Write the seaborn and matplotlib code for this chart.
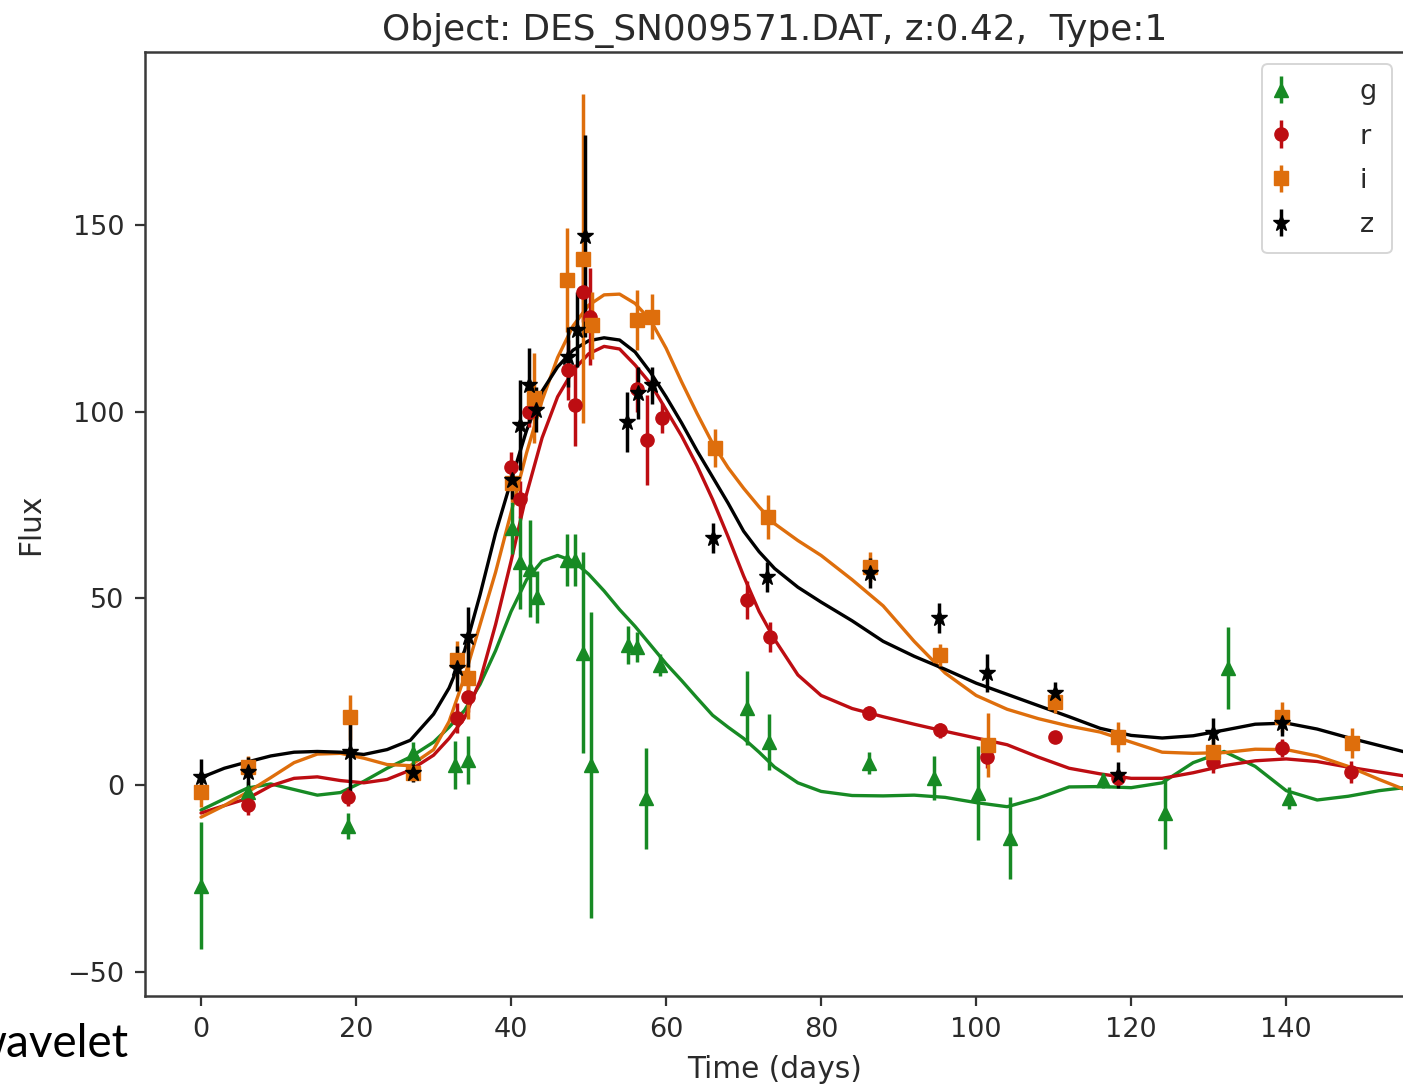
import matplotlib
matplotlib.use("Agg")
import matplotlib.pyplot as plt
import seaborn as sns
import numpy as np

# ---------------- observations (days, flux, flux error) ----------------
g_days = [0.0, 6.1, 19.0, 27.3, 32.8, 34.4, 40.1, 41.2, 42.5, 43.3, 47.2, 48.3,
          49.3, 50.3, 55.1, 56.3, 57.4, 59.2, 70.4, 73.3, 86.2, 94.5, 100.3,
          104.4, 116.4, 124.4, 132.5, 140.3]
g_flux = [-27.0, -1.9, -11.0, 8.5, 5.4, 6.7, 68.8, 59.7, 58.0, 50.4, 60.3, 60.3,
          35.5, 5.4, 37.5, 37.0, -3.5, 32.1, 20.6, 11.5, 5.9, 1.9, -2.1,
          -14.2, 1.3, -7.5, 31.3, -3.5]
g_err = [17.0, 3.0, 3.5, 3.0, 6.5, 6.5, 7.0, 12.5, 13.0, 7.0, 7.0, 7.0,
         27.0, 41.0, 5.0, 4.0, 13.5, 3.0, 10.0, 7.5, 3.0, 6.0, 12.5,
         11.0, 2.0, 9.5, 11.0, 3.0]

r_days = [6.1, 19.0, 33.0, 34.4, 40.0, 41.2, 42.3, 47.4, 48.3, 49.3, 50.2, 56.3,
          57.5, 59.5, 70.4, 73.4, 86.2, 95.4, 101.4, 110.2, 118.3, 130.5,
          139.4, 148.4]
r_flux = [-5.4, -3.2, 17.9, 23.6, 85.2, 76.5, 99.9, 111.2, 101.8, 132.0, 125.4,
          106.0, 92.4, 98.3, 49.6, 39.6, 19.3, 14.7, 7.5, 12.9, 1.9, 6.2,
          9.9, 3.5]
r_err = [2.5, 2.5, 4.0, 4.0, 4.0, 5.0, 4.0, 8.0, 11.0, 8.0, 13.0, 6.0,
         12.0, 4.0, 5.0, 4.0, 2.0, 2.0, 3.0, 1.5, 2.0, 3.0, 2.5, 3.0]

i_days = [0.0, 6.1, 19.2, 27.3, 33.0, 34.4, 40.1, 42.9, 47.2, 49.3, 50.4, 56.3,
          58.2, 66.3, 73.2, 86.3, 95.4, 101.5, 110.2, 118.3, 130.6, 139.5,
          148.5]
i_flux = [-1.9, 4.8, 18.2, 3.2, 33.5, 28.7, 80.9, 103.7, 135.3, 141.0, 123.2,
          124.6, 125.4, 90.3, 71.8, 58.4, 34.8, 10.7, 22.2, 12.9, 8.8, 18.2,
          11.2]
i_err = [4.0, 3.0, 6.0, 2.0, 5.0, 11.0, 5.0, 12.0, 14.0, 44.0, 9.0, 8.0,
         6.0, 5.0, 6.0, 4.0, 3.0, 8.6, 3.0, 4.0, 4.0, 4.0, 4.0]

z_days = [0.0, 6.1, 19.2, 27.3, 33.0, 34.4, 40.1, 41.2, 42.3, 43.2, 47.4, 48.5,
          49.5, 55.0, 56.4, 58.2, 66.1, 73.0, 86.3, 95.2, 101.4, 110.2,
          118.3, 130.6, 139.4]
z_flux = [2.1, 3.5, 8.8, 3.2, 31.3, 39.6, 81.7, 96.4, 107.1, 100.5, 114.6, 122.0,
          147.0, 97.2, 105.0, 107.1, 66.2, 55.7, 56.8, 44.7, 30.0, 24.6,
          2.7, 13.9, 16.6]
z_err = [5.0, 4.0, 11.0, 2.5, 6.0, 8.0, 5.0, 12.0, 10.0, 6.0, 8.0, 10.0,
         27.0, 8.0, 7.0, 5.0, 4.0, 4.0, 4.0, 4.0, 5.0, 3.0, 3.5, 4.0, 3.5]

# ---------------- fitted light curves ----------------
curve_days = [0, 3, 6, 9, 12, 15, 18, 21, 24, 27, 30, 32, 34, 36, 38, 40, 42, 44,
              46, 48, 50, 52, 54, 56, 58, 60, 62, 64, 66, 68, 70, 72, 74, 77, 80,
              84, 88, 92, 96, 100, 104, 108, 112, 116, 120, 124, 128, 132, 136,
              140, 144, 148, 152, 156]
g_fit = [-6.7, -3.7, -0.8, 0.3, -1.2, -2.7, -2.0, 1.0, 4.5, 7.5, 11.5, 15.5, 20.0,
         27.0, 36.0, 46.5, 55.0, 60.0, 61.5, 60.0, 56.5, 52.0, 47.0, 42.5, 37.5,
         32.5, 28.0, 23.3, 18.7, 15.5, 12.5, 8.8, 4.8, 0.6, -1.7, -2.8, -2.9,
         -2.7, -3.3, -4.7, -5.8, -3.5, -0.5, -0.4, -0.7, 0.6, 6.0, 9.0, 5.0,
         -1.5, -4.0, -3.0, -1.5, -0.5]
r_fit = [-7.5, -5.5, -3.6, -0.2, 1.8, 2.2, 1.2, 0.6, 1.5, 4.0, 8.0, 12.5, 18.0,
         28.0, 43.0, 60.0, 78.0, 93.0, 104.0, 111.0, 115.5, 117.5, 116.8, 112.5,
         107.5, 100.5, 93.5, 85.5, 76.5, 66.5, 56.0, 46.5, 39.0, 29.5, 24.0,
         20.5, 18.3, 16.3, 14.4, 12.6, 10.8, 7.5, 4.5, 3.0, 1.8, 1.8, 3.3, 5.2,
         6.5, 7.0, 6.3, 4.8, 3.5, 2.2]
i_fit = [-8.6, -5.5, -1.9, 2.0, 6.0, 8.3, 8.5, 7.2, 5.5, 5.2, 9.5, 17.0, 29.0,
         43.0, 57.0, 73.0, 89.0, 103.0, 114.5, 123.0, 128.5, 131.3, 131.5, 129.0,
         124.5, 117.0, 108.0, 99.5, 91.5, 85.0, 79.5, 74.5, 70.0, 65.5, 61.5,
         55.0, 48.0, 38.5, 30.0, 24.0, 20.3, 17.8, 15.8, 14.2, 11.5, 8.8, 8.5,
         8.7, 9.6, 9.5, 7.8, 5.0, 1.5, -1.8]
z_fit = [2.0, 4.5, 6.2, 7.8, 8.8, 9.0, 8.8, 8.2, 9.5, 12.0, 19.0, 26.0, 36.0,
         51.0, 67.5, 81.5, 95.0, 105.5, 112.0, 116.5, 119.0, 119.8, 119.2, 116.0,
         110.5, 104.0, 97.0, 89.5, 82.5, 75.5, 68.0, 62.5, 58.0, 53.0, 49.0,
         44.0, 38.5, 34.5, 31.0, 27.3, 24.3, 21.3, 18.3, 15.2, 13.3, 12.6, 13.2,
         14.7, 16.3, 16.6, 15.0, 12.7, 10.6, 8.5]

bands = ["g", "r", "i", "z"]
band_colors = {"g": "#178a24", "r": "#bd0d12", "i": "#de6e0c", "z": "#000000"}
band_markers = {"g": "^", "r": "o", "i": "s", "z": "*"}
observations = {
    "g": (g_days, g_flux, g_err, g_fit),
    "r": (r_days, r_flux, r_err, r_fit),
    "i": (i_days, i_flux, i_err, i_fit),
    "z": (z_days, z_flux, z_err, z_fit),
}

sns.set_style("ticks")
plt.rcParams["font.family"] = ["DejaVu Sans"]

fs = 19.5
fs_lab = 21.3
fig = plt.figure(figsize=(14.03, 10.87), dpi=100)
ax = fig.add_axes([145 / 1403, 91 / 1087, 1259 / 1403, 944 / 1087])

for band in bands:
    days, flux, err, fit = observations[band]
    col = band_colors[band]
    ax.errorbar(days, flux, yerr=err, fmt=band_markers[band], color=col,
                ms=9.5 if band != "z" else 12, elinewidth=2.5, capsize=0,
                label=band, zorder=3)
    sns.lineplot(x=curve_days, y=fit, color=col, lw=2.4, ax=ax,
                 legend=False, sort=False, zorder=2)

ax.set_xlim(-7.23, 155.2)
ax.set_ylim(-56.5, 196.35)
ax.set_xticks([0, 20, 40, 60, 80, 100, 120, 140])
ax.set_yticks([-50, 0, 50, 100, 150])
ax.tick_params(labelsize=fs, length=7, width=1.6, pad=8, colors="#333333",
               labelcolor="#2a2a2a", direction="out")
for sp in ax.spines.values():
    sp.set_linewidth(1.8)
    sp.set_color("#3a3a3a")

ax.set_xlabel("Time (days)", fontsize=fs_lab, color="#2a2a2a", labelpad=9)
ax.set_ylabel("Flux", fontsize=fs_lab, color="#2a2a2a", labelpad=16)
ax.set_title("Object: DES_SN009571.DAT, z:0.42,  Type:1", fontsize=25.8,
             color="#2a2a2a", pad=9)

leg = ax.legend(loc="upper right", fontsize=fs, handlelength=0.3,
                handletextpad=2.75, borderpad=0.55, labelspacing=0.68,
                borderaxespad=0.45, frameon=True, fancybox=True)
leg.get_frame().set_edgecolor("#cccccc")
leg.get_frame().set_linewidth(1.4)
for t in leg.get_texts():
    t.set_color("#2a2a2a")

fig.text(128 / 1403, 1 - 1057 / 1087, "wavelet", fontsize=33,
         family=["Lato", "DejaVu Sans"], ha="right", va="baseline",
         color="black")

fig.savefig("out.png", dpi=100)
